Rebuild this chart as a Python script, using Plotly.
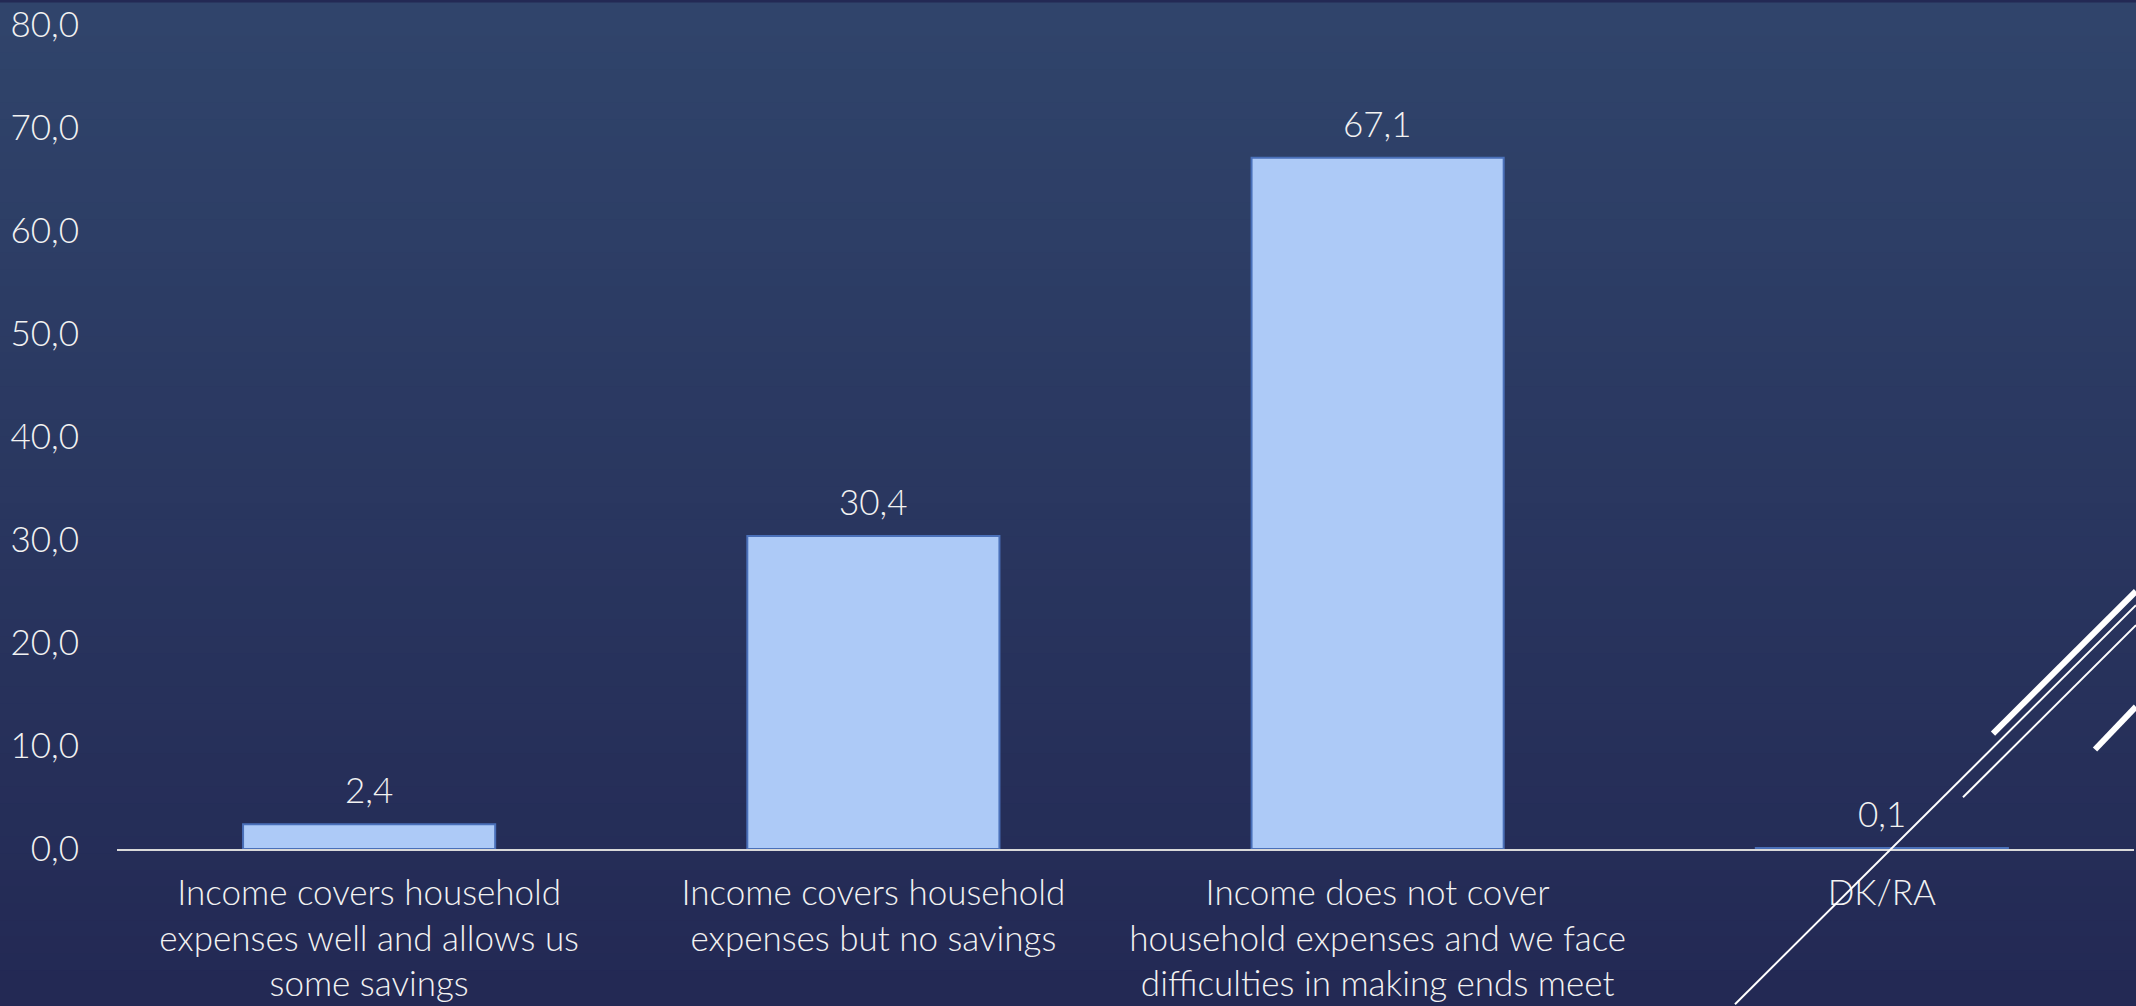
import plotly.graph_objects as go

categories = [
    "Income covers household<br>expenses well and allows us<br>some savings",
    "Income covers household<br>expenses but no savings",
    "Income does not cover<br>household expenses and we face<br>difficulties in making ends meet",
    "DK/RA",
]
values = [2.4, 30.4, 67.1, 0.1]
y_ticks = [0, 10, 20, 30, 40, 50, 60, 70, 80]

W, H = 2136, 1006
ML, MR, MT, MB = 117, 2, 21, 157

FONT = "Lato"
TXT = "#f2f2f2"
FS = 35

fig = go.Figure()
fig.add_trace(go.Bar(
    x=categories, y=values,
    marker=dict(color="#adcaf7", line=dict(color="#4a70b9", width=2)),
    hoverinfo="skip",
))

# value labels above the bars
for c, v in zip(categories, values):
    fig.add_annotation(x=c, y=v, text=f"{v:.1f}".replace(".", ","),
                       showarrow=False, yanchor="bottom", yshift=12,
                       font=dict(family=FONT, size=FS, color=TXT, weight=300))

# background gradient (slide style), top -> bottom
top = (48, 68, 107)
bot = (35, 41, 84)
n = 60
for i in range(n):
    t = i / (n - 1)
    col = tuple(round(top[k] + (bot[k] - top[k]) * t) for k in range(3))
    y1 = 1 - i / n
    y0 = 1 - (i + 1) / n
    fig.add_shape(type="rect", xref="paper", yref="paper", layer="below",
                  x0=-ML / (W - ML - MR), x1=1 + MR / (W - ML - MR),
                  y0=(y0 * H - MB) / (H - MT - MB), y1=(y1 * H - MB) / (H - MT - MB) + 0.002,
                  fillcolor="rgb(%d,%d,%d)" % col, line_width=0)


def to_paper(px, py):
    return (px - ML) / (W - ML - MR), (H - MB - py) / (H - MT - MB)


# decorative diagonal strokes bottom right
for (xa, ya, xb, yb, w) in [(1735, 1005, 2136, 604, 2), (1963, 797, 2136, 624, 2),
                            (1993, 733, 2136, 590, 6), (2095, 749, 2136, 706, 6)]:
    x0, y0 = to_paper(xa, ya)
    x1, y1 = to_paper(xb, yb)
    fig.add_shape(type="line", xref="paper", yref="paper", x0=x0, y0=y0, x1=x1, y1=y1,
                  line=dict(color="white", width=w), layer="above")

fig.update_layout(
    width=W, height=H,
    margin=dict(l=ML, r=MR, t=MT, b=MB),
    paper_bgcolor="rgb(35,41,84)",
    plot_bgcolor="rgba(0,0,0,0)",
    separators=", ",
    bargap=0.5,
    showlegend=False,
    font=dict(family=FONT, color=TXT, size=FS, weight=300),
    xaxis=dict(showgrid=False, showline=True, linecolor="#d9d9d9", linewidth=2,
               ticks="outside", ticklen=12, tickcolor="rgba(0,0,0,0)",
               tickfont=dict(family=FONT, size=FS, color=TXT, weight=300)),
    yaxis=dict(range=[0, 80], tickvals=y_ticks, tickformat=".1f", showgrid=False,
               zeroline=False, showline=False, ticks="outside", ticklen=30,
               tickcolor="rgba(0,0,0,0)", ticklabeloverflow="allow",
               tickfont=dict(family=FONT, size=FS, color=TXT, weight=300)),
)

# drop the default page margin so the figure fills the window
fig.write_html("out.html", config={"displayModeBar": False},
               post_script="document.body.style.margin='0';document.body.style.background='rgb(35,41,84)';")
